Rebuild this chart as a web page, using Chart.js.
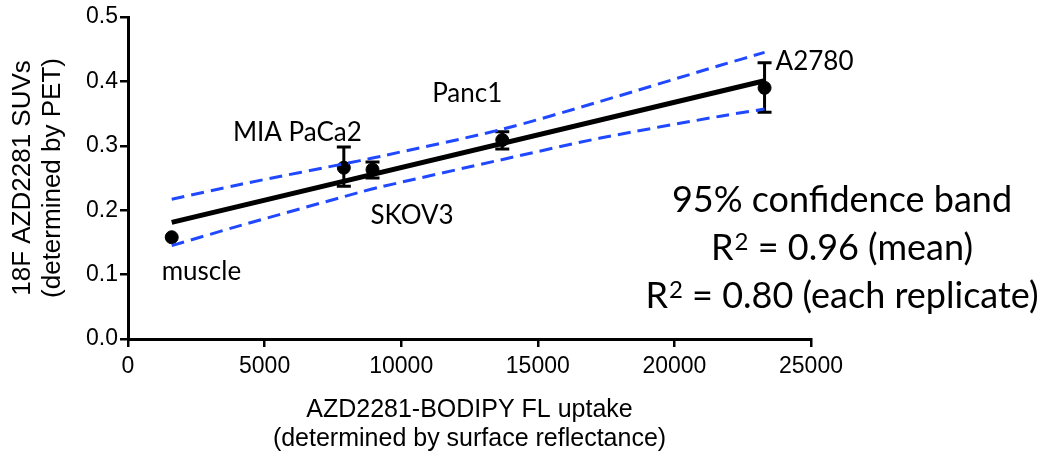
<!DOCTYPE html>
<html>
<head>
<meta charset="utf-8">
<script src="https://cdn.jsdelivr.net/npm/chart.js@4.4.0/dist/chart.umd.min.js"></script>
<style>
html,body{margin:0;padding:0;background:#fff;}
#wrap{width:1045px;height:453px;}
</style>
</head>
<body>
<div id="wrap"><canvas id="grafica"></canvas></div>
<script>
// lineas celulares y sus valores medios
var lineas = ['muscle', 'MIA PaCa2', 'SKOV3', 'Panc1', 'A2780'];
var uptake = [1600, 7900, 8950, 13700, 23300];
var suvMedia = [0.158, 0.266, 0.263, 0.309, 0.390];
var suvMax = [null, 0.298, 0.275, 0.322, 0.429];
var suvMin = [null, 0.237, 0.250, 0.295, 0.352];

// recta de regresion
var ajusteX = [1600, 23300];
var ajusteY = [0.181, 0.401];

// banda de confianza 95%
var bandaX = [1600, 4100, 8500, 9230, 13630, 17290, 21685, 23300];
var bandaSup = [0.217, 0.240, 0.277, 0.2835, 0.325, 0.369, 0.425, 0.445];
var bandaInf = [0.145, 0.176, 0.228, 0.236, 0.278, 0.312, 0.346, 0.357];

var ticksX = [0, 5000, 10000, 15000, 20000, 25000];
var ticksY = [0, 0.1, 0.2, 0.3, 0.4, 0.5];
var notas = ['95% confidence band', 'R\u00B2 = 0.96 (mean)', 'R\u00B2 = 0.80 (each replicate)'];

var azul = '#1f48ff';
var fuenteEje = "'Liberation Sans', Arial, sans-serif";
var fuenteNota = "Lato, 'Open Sans', sans-serif";

function pares(xs, ys){
    var r = [];
    for (var i = 0; i < xs.length; i++) {
        r.push({x: xs[i], y: ys[i]});
    }
    return r;
}

// barras de error (debajo de todo)
var pluginError = {
    id: 'barrasError',
    beforeDatasetsDraw: function(chart){
        var ctx = chart.ctx;
        var sx = chart.scales.x, sy = chart.scales.y;
        ctx.save();
        ctx.strokeStyle = '#000';
        ctx.lineWidth = 3;
        for (var i = 0; i < uptake.length; i++) {
            if (suvMax[i] === null) continue;
            var px = sx.getPixelForValue(uptake[i]);
            var yA = sy.getPixelForValue(suvMax[i]);
            var yB = sy.getPixelForValue(suvMin[i]);
            ctx.beginPath();
            ctx.moveTo(px, yA); ctx.lineTo(px, yB);
            ctx.moveTo(px - 7, yA); ctx.lineTo(px + 7, yA);
            ctx.moveTo(px - 7, yB); ctx.lineTo(px + 7, yB);
            ctx.stroke();
        }
        ctx.restore();
    }
};

// texto con superindice (R²)
function textoSup(ctx, txt, cx, yb){
    var partes = txt.split('\u00B2');
    var fGrande = '36px ' + fuenteNota, fChica = '24px ' + fuenteNota;
    var total = 0;
    for (var i = 0; i < partes.length; i++) {
        ctx.font = fGrande;
        total += ctx.measureText(partes[i]).width;
        if (i < partes.length - 1) { ctx.font = fChica; total += ctx.measureText('2').width + 1; }
    }
    var x = cx - total / 2;
    ctx.textAlign = 'left';
    for (var j = 0; j < partes.length; j++) {
        ctx.font = fGrande;
        ctx.fillText(partes[j], x, yb);
        x += ctx.measureText(partes[j]).width;
        if (j < partes.length - 1) {
            ctx.font = fChica;
            ctx.fillText('2', x + 1, yb - 10);
            x += ctx.measureText('2').width + 1;
        }
    }
}

// etiquetas de puntos y anotaciones
var desplaza = [
    {dx: -10, dy: 34, al: 'left'},
    {dx: 18, dy: -35, al: 'right'},
    {dx: -2, dy: 46, al: 'left'},
    {dx: 0, dy: -46, al: 'right'},
    {dx: 11, dy: -26, al: 'left'}
];
var pluginTexto = {
    id: 'textos',
    afterDraw: function(chart){
        var ctx = chart.ctx;
        var sx = chart.scales.x, sy = chart.scales.y;
        ctx.save();
        ctx.fillStyle = '#000';
        ctx.textBaseline = 'middle';
        ctx.font = '26px ' + fuenteNota;
        for (var i = 0; i < lineas.length; i++) {
            var px = sx.getPixelForValue(uptake[i]);
            var py = sy.getPixelForValue(suvMedia[i]);
            ctx.textAlign = desplaza[i].al;
            ctx.fillText(lineas[i], px + desplaza[i].dx, py + desplaza[i].dy);
        }
        ctx.textBaseline = 'alphabetic';
        for (var j = 0; j < notas.length; j++) {
            textoSup(ctx, notas[j], 842, 212 + j * 48);
        }
        ctx.restore();
    }
};

var ctx = document.getElementById('grafica').getContext('2d');
var grafica = new Chart(ctx, {
    type: 'scatter',
    data: {
        datasets: [{
            label: 'upper',
            type: 'line',
            data: pares(bandaX, bandaSup),
            borderColor: azul,
            borderWidth: 3,
            borderDash: [13, 7],
            pointRadius: 0,
            fill: false,
            tension: 0.3,
            order: 0
        }, {
            label: 'lower',
            type: 'line',
            data: pares(bandaX, bandaInf),
            borderColor: azul,
            borderWidth: 3,
            borderDash: [13, 7],
            pointRadius: 0,
            fill: false,
            tension: 0.3,
            order: 0
        }, {
            label: 'fit',
            type: 'line',
            data: pares(ajusteX, ajusteY),
            borderColor: '#000',
            borderWidth: 5,
            pointRadius: 0,
            fill: false,
            order: 1
        }, {
            label: 'SUV',
            data: pares(uptake, suvMedia),
            backgroundColor: '#000',
            borderColor: '#000',
            pointRadius: 6.5,
            order: 2
        }]
    },
    options: {
        responsive: true,
        maintainAspectRatio: false,
        animation: false,
        layout: {padding: {top: 17, right: 234, left: 0, bottom: 0}},
        plugins: {
            legend: {display: false},
            tooltip: {enabled: false}
        },
        scales: {
            x: {
                type: 'linear',
                min: 0,
                max: 25000,
                afterBuildTicks: function(s){ s.ticks = ticksX.map(function(v){ return {value: v}; }); },
                afterFit: function(s){ s.height = 114; },
                border: {color: '#000', width: 3},
                grid: {drawOnChartArea: false, drawTicks: true, tickLength: 8, color: '#000', lineWidth: 2.5},
                ticks: {
                    color: '#000',
                    padding: 6,
                    maxRotation: 0,
                    font: {family: fuenteEje, size: 23},
                    callback: function(v){ return String(v); }
                },
                title: {
                    display: true,
                    text: ['AZD2281-BODIPY FL uptake', '(determined by surface reflectance)'],
                    color: '#000',
                    font: {family: fuenteEje, size: 25, lineHeight: 1.15},
                    padding: {top: 8, bottom: 0}
                }
            },
            y: {
                type: 'linear',
                min: 0,
                max: 0.5,
                afterBuildTicks: function(s){ s.ticks = ticksY.map(function(v){ return {value: v}; }); },
                afterFit: function(s){ s.width = 128; },
                border: {color: '#000', width: 3},
                grid: {drawOnChartArea: false, drawTicks: true, tickLength: 8, color: '#000', lineWidth: 2.5},
                ticks: {
                    color: '#000',
                    padding: 2,
                    font: {family: fuenteEje, size: 23},
                    callback: function(v){ return Number(v).toFixed(1); }
                },
                title: {
                    display: true,
                    text: ['18F AZD2281 SUVs', '(determined by PET)'],
                    color: '#000',
                    font: {family: fuenteEje, size: 26, lineHeight: 1.15},
                    padding: {top: 8, bottom: 0}
                }
            }
        }
    },
    plugins: [pluginError, pluginTexto]
});
</script>
</body>
</html>
